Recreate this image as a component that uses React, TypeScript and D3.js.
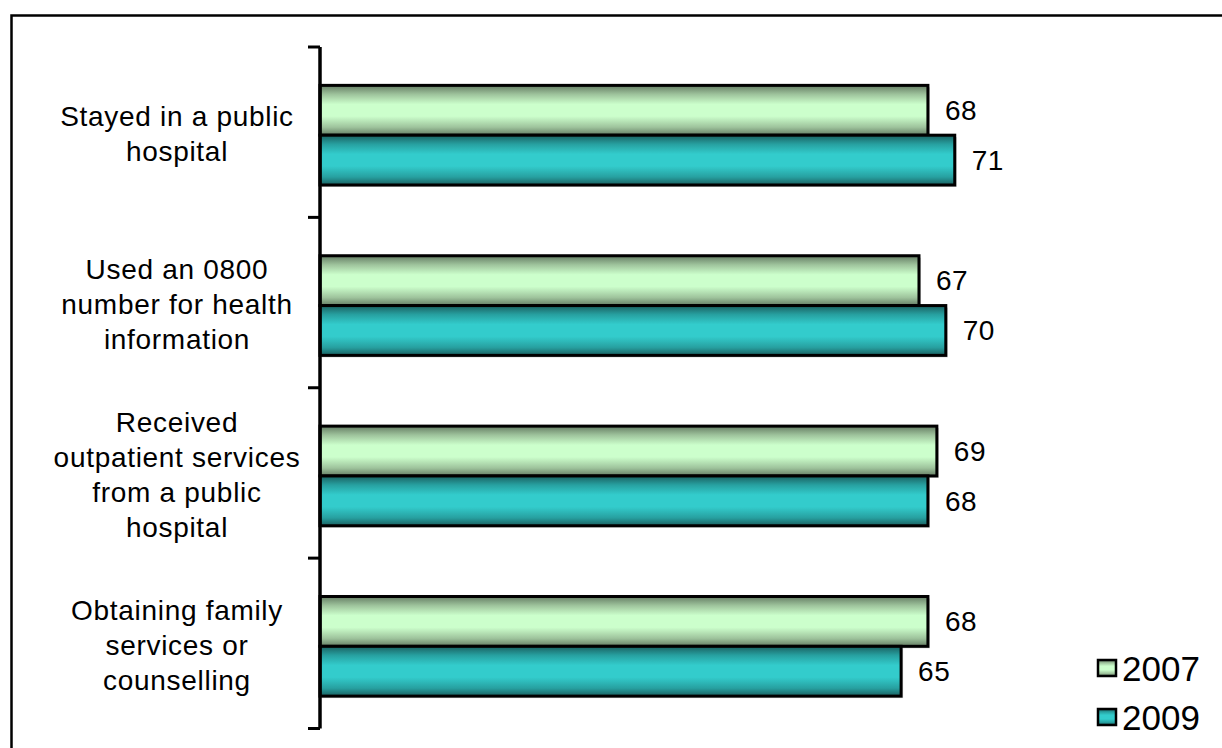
import React from "react";
import * as d3 from "d3";

const categories: string[][] = [
  ["Stayed in a public", "hospital"],
  ["Used an 0800", "number for health", "information"],
  ["Received", "outpatient services", "from a public", "hospital"],
  ["Obtaining family", "services or", "counselling"],
];
const seriesNames = ["2007", "2009"];
const values2007 = [68, 67, 69, 68];
const values2009 = [71, 70, 68, 65];

const W = 1222;
const H = 748;
const FONT = "'Liberation Sans', Arial, sans-serif";

const gradients: Record<string, { edge: string; mid: string; light: string }> = {
  "2007": { edge: "#647c63", mid: "#9ec39c", light: "#ccffcc" },
  "2009": { edge: "#1a5f5f", mid: "#27a0a0", light: "#33cccc" },
};

export default function App() {
  const catKeys = categories.map((_, i) => String(i));
  const y = d3.scaleBand<string>().domain(catKeys).range([47, 728.5]).paddingInner(0).paddingOuter(0);
  const inner = d3
    .scaleBand<string>()
    .domain(seriesNames)
    .range([0, y.bandwidth()])
    .paddingOuter(0.71)
    .paddingInner(0);
  const x = d3.scaleLinear().domain([0, 100]).range([320, 1214]);
  const series = [
    { name: "2007", values: values2007 },
    { name: "2009", values: values2009 },
  ];
  const tickYs = [...catKeys.map((k) => y(k)!), y.range()[1]];
  const barShift = 3;
  const lineH = 35;

  return (
    <svg
      width={W}
      height={H}
      style={{ position: "absolute", left: 0, top: 0, background: "#fff" }}
      fontFamily={FONT}
    >
      <defs>
        {seriesNames.map((s) => (
          <linearGradient key={s} id={`g${s}`} x1="0" y1="0" x2="0" y2="1">
            <stop offset="0%" stopColor={gradients[s].edge} />
            <stop offset="18%" stopColor={gradients[s].mid} />
            <stop offset="38%" stopColor={gradients[s].light} />
            <stop offset="62%" stopColor={gradients[s].light} />
            <stop offset="84%" stopColor={gradients[s].mid} />
            <stop offset="100%" stopColor={gradients[s].edge} />
          </linearGradient>
        ))}
      </defs>

      {/* outer frame */}
      <rect x={11.5} y={15.5} width={W + 20} height={H + 20} fill="none" stroke="#000" strokeWidth={2.5} />

      {/* bars */}
      {catKeys.map((k, ci) =>
        series.map((s) => {
          const by = y(k)! + inner(s.name)! + barShift;
          const bh = inner.bandwidth();
          const x0 = x(0);
          const x1 = x(s.values[ci]);
          return (
            <g key={`${k}-${s.name}`}>
              <rect x={x0 + 2} y={by + 2} width={x1 - x0} height={bh} fill="#b0b0b0" opacity={0.6} />
              <rect x={x0} y={by} width={x1 - x0} height={bh} fill={`url(#g${s.name})`} stroke="#000" strokeWidth={3} />
              <text
                x={x1 + 17}
                y={by + bh / 2}
                dy="0.35em"
                fontSize={28}
                letterSpacing={0.5}
                fill="#000"
              >
                {s.values[ci]}
              </text>
            </g>
          );
        })
      )}

      {/* category axis */}
      <line x1={x(0)} x2={x(0)} y1={tickYs[0]} y2={tickYs[tickYs.length - 1]} stroke="#000" strokeWidth={3.5} />
      {tickYs.map((ty, i) => (
        <line key={i} x1={x(0) - 12} x2={x(0)} y1={ty} y2={ty} stroke="#000" strokeWidth={3} />
      ))}

      {/* category labels */}
      {catKeys.map((k, ci) => {
        const lines = categories[ci];
        const cy = y(k)! + y.bandwidth() / 2 + 2;
        const top = cy - ((lines.length - 1) * lineH) / 2;
        return (
          <text key={k} x={177} textAnchor="middle" fontSize={28} letterSpacing={0.7} fill="#000">
            {lines.map((ln, li) => (
              <tspan key={li} x={177} y={top + li * lineH} dy="0.35em">
                {ln}
              </tspan>
            ))}
          </text>
        );
      })}

      {/* legend */}
      {seriesNames.map((s, i) => {
        const ly = 668 + i * 49;
        return (
          <g key={s}>
            <rect x={1098} y={ly - 8} width={18} height={16} fill={`url(#g${s})`} stroke="#000" strokeWidth={2.5} />
            <text x={1122} y={ly} dy="0.36em" fontSize={35} fill="#000">
              {s}
            </text>
          </g>
        );
      })}
    </svg>
  );
}
